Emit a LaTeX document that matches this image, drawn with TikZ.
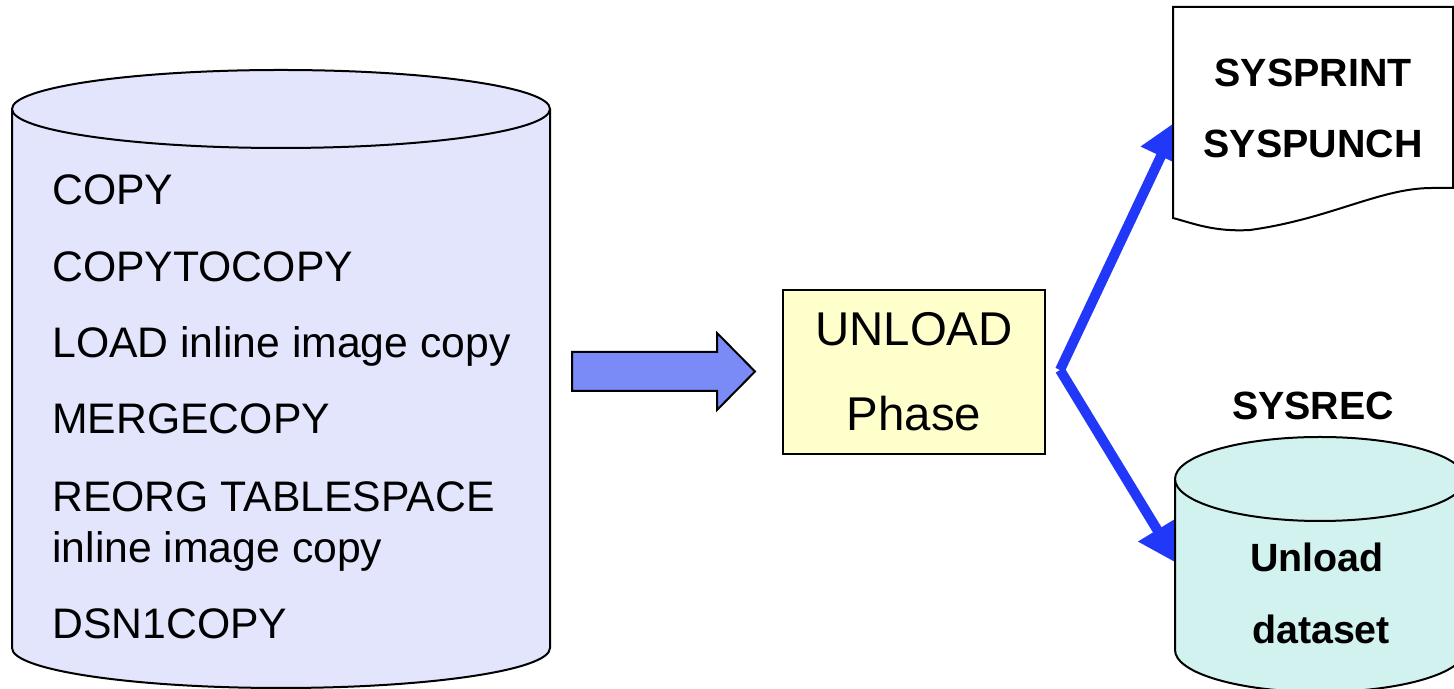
\documentclass[tikz,border=0pt]{standalone}
\usepackage{fontspec}
\setmainfont{Liberation Sans}
\usetikzlibrary{arrows.meta}
\definecolor{lavender}{RGB}{226,229,252}
\definecolor{paleyellow}{RGB}{255,255,204}
\definecolor{palecyan}{RGB}{210,242,240}
\definecolor{blockblue}{RGB}{122,139,248}
\definecolor{lineblue}{RGB}{34,56,248}
\tikzset{
  outline/.style={draw=black, line width=1pt},
  listtext/.style={anchor=base west, inner sep=0pt, font=\fontsize{21.35pt}{25pt}\selectfont},
  boldtext/.style={anchor=base, inner sep=0pt, font=\fontsize{19.7pt}{24pt}\selectfont\bfseries},
  phasebox/.style={outline, fill=paleyellow, minimum width=131pt, minimum height=82pt, inner sep=0pt,
    align=center, font=\fontsize{23.7pt}{42.5pt}\selectfont},
  flow/.style={draw=lineblue, line width=5pt, line join=miter,
    -{Triangle[length=20pt,width=21pt]}},
}
\begin{document}
\begin{tikzpicture}[x=0.5pt,y=0.5pt]
\useasboundingbox (0,0) rectangle (1454,689);
\clip (0,0) rectangle (1454,689);
\fill[white] (0,0) rectangle (1454,689);

% blue connectors (drawn first, tips hidden under shapes)
\coordinate (v) at (1060,319);
\coordinate (t1) at (1178,569);
\coordinate (t2) at (1178,125);
\draw[flow] (v) -- (t1);
\draw[flow] (v) -- (t2);

% left cylinder
\filldraw[outline, fill=lavender] (12,580) -- (12,41)
  arc[start angle=180, end angle=360, x radius=134.5pt, y radius=20pt] -- (550,580);
\filldraw[outline, fill=lavender] (281,580) ellipse[x radius=134.5pt, y radius=19.5pt];
\node[listtext] (l1) at (52,484) {COPY};
\node[listtext] (l2) at (52,407) {COPYTOCOPY};
\node[listtext] (l3) at (52,331) {LOAD inline image copy};
\node[listtext] (l4) at (52,255) {MERGECOPY};
\node[listtext] (l5) at (52,177) {REORG TABLESPACE};
\node[listtext] (l6) at (52,126) {inline image copy};
\node[listtext] (l7) at (52,50) {DSN1COPY};

% block arrow
\filldraw[outline, fill=blockblue] (572,337) -- (717,337) -- (717,356) -- (755,317.5)
  -- (717,279) -- (717,298) -- (572,298) -- cycle;

% UNLOAD phase box
\node[phasebox] (unload) at (914,317) {UNLOAD\\Phase};

% document
\filldraw[outline, fill=white] (1173,682) -- (1453,682) -- (1453,501) -- (1432,501)
  .. controls (1380,501) and (1330,470) .. (1250,459)
  .. controls (1215,457) and (1195,465) .. (1173,471) -- cycle;
\node[boldtext] (sysprint) at (1313,602) {SYSPRINT};
\node[boldtext] (syspunch) at (1313,531) {SYSPUNCH};

% SYSREC cylinder
\node[boldtext] (sysrec) at (1313,269) {SYSREC};
\filldraw[outline, fill=palecyan] (1175,210) -- (1175,39)
  arc[start angle=180, end angle=360, x radius=72.5pt, y radius=21pt] -- (1465,210);
\filldraw[outline, fill=palecyan] (1320,210) ellipse[x radius=72.5pt, y radius=21pt];
\node[boldtext] (unl) at (1317,117) {Unload};
\node[boldtext] (ds) at (1321,45) {dataset};
\end{tikzpicture}
\end{document}
